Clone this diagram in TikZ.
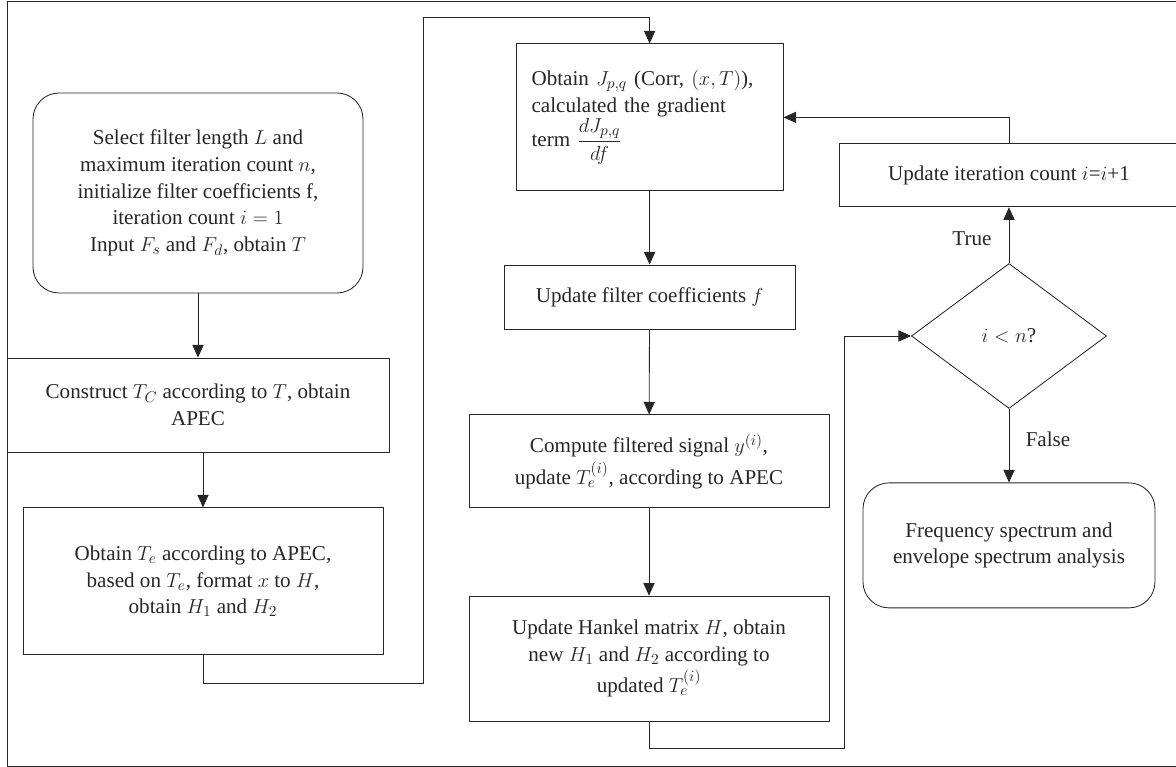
\documentclass[tikz,border=0pt]{standalone}
\usepackage{fontspec}
\setmainfont{Liberation Serif}
\usepackage{amsmath}
\usetikzlibrary{shapes,arrows.meta}

\begin{document}
\begin{tikzpicture}[>={Triangle[length=9pt,width=8pt]},line width=0.6pt,color=black!85]
\useasboundingbox[clip] (0,0) rectangle (29.4,19.175);
\tikzstyle{block}=[rectangle,draw,align=center,inner sep=0pt,font=\fontsize{15}{19}\selectfont]
\tikzstyle{term}=[block,rounded corners=0.65cm]
\tikzstyle{decide}=[diamond,draw,inner sep=0pt,font=\fontsize{15}{19}\selectfont]
\tikzstyle{lbl}=[font=\fontsize{15}{19}\selectfont]
% outer frame
\draw (0.175,0.025) rectangle (29.8,19.15);
\node[term,minimum width=8.25cm,minimum height=5cm](S) at (4.95,14.35) {Select filter length $L$ and\\ maximum iteration count $n$,\\ initialize filter coefficients f,\\ iteration count $i=1$\\ Input $F_s$ and $F_d$, obtain $T$};
\node[block,minimum width=9.55cm,minimum height=2.35cm](C) at (4.95,9.05) {Construct $T_C$ according to $T$, obtain\\ APEC};
\node[block,minimum width=9cm,minimum height=3.675cm](E) at (5.075,4.64) {Obtain $T_e$ according to APEC,\\ based on $T_e$, format $x$ to $H$,\\ obtain $H_1$ and $H_2$};
\node[block,minimum width=6.675cm,minimum height=3.675cm,align=left,text width=5.9cm](J) at (16.24,16.24) {Obtain $J_{p,q}$ (Corr, $(x,T)$),\\ calculated the gradient\\ term $\dfrac{dJ_{p,q}}{df}$};
\node[block,minimum width=7.275cm,minimum height=1.6cm](F) at (16.24,11.75) {Update filter coefficients $f$};
\node[block,minimum width=9cm,minimum height=2.325cm](Y) at (16.225,7.64) {Compute filtered signal $y^{(i)}$,\\[2pt] update $T_e^{(i)}$, according to APEC};
\node[block,minimum width=9cm,minimum height=3.125cm](H) at (16.225,2.71) {Update Hankel matrix $H$, obtain\\ new $H_1$ and $H_2$ according to\\[2pt] updated $T_e^{(i)}$};
\node[decide,minimum width=4.875cm,minimum height=3.625cm](D) at (25.225,10.775) {$i<n$?};
\node[block,minimum width=8.5cm,minimum height=1.575cm](I) at (25.225,14.79) {Update iteration count $i$=$i$+1};
\node[term,minimum width=7.3cm,minimum height=3.125cm](R) at (25.225,5.54) {Frequency spectrum and\\ envelope spectrum analysis};
\node[lbl](tr) at (24.3,13.2) {True};
\node[lbl](fa) at (26.2,8.2) {False};

\coordinate (c1) at (10.575,2.1);
\coordinate (c2) at (10.575,18.75);
\coordinate (c3) at (21.1,0.475);

\draw[->] (S) -- (C);
\draw[->] (C.south -| E.north) -- (E.north);
\draw[->] (E.south) |- (c1) -- (c2) -| (J.north);
\draw[->] (J) -- (F);
\draw[->] (F) -- (Y);
\draw[->] (Y) -- (H);
\draw[->] (H.south) |- (c3) |- (D.west);
\draw[->] (D.north) -- (I.south);
\draw[->] (I.north) |- (J.east);
\draw[->] (D.south) -- (R.north);
\end{tikzpicture}
\end{document}
